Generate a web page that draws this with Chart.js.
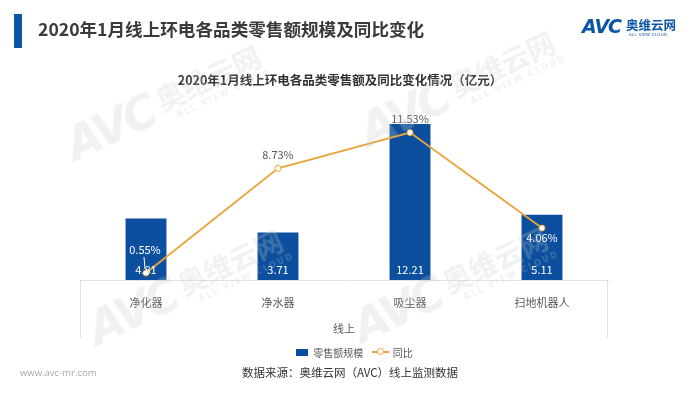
<!DOCTYPE html>
<html>
<head>
<meta charset="utf-8">
<script src="https://cdn.jsdelivr.net/npm/chart.js@4.4.0/dist/chart.umd.min.js"></script>
<style>
  body { margin: 0; width: 700px; height: 394px; background: #fff; overflow: hidden;
         font-family: "Noto Sans CJK SC", "Noto Sans", sans-serif; }
  #wrap { position: relative; width: 700px; height: 394px; }
  #chart { position: absolute; left: 0; top: 0; }
  .abs { position: absolute; white-space: nowrap; }
  #headbar { left: 14px; top: 14px; width: 8px; height: 34px; background: #0B55A8; }
  #head { left: 38px; top: 16px; font-size: 17.6px; font-weight: bold; color: #3a3a3a; }
  #logo { left: 582px; top: 14px; color: #0B55A8; }
  #logo .avc { font-family: "DejaVu Sans"; font-weight: bold; font-size: 19px; font-style: italic; letter-spacing: -1px; }
  #logo .cn { position: absolute; left: 44px; top: 1px; font-size: 12.5px; font-weight: bold; }
  #logo .en { position: absolute; left: 47px; top: 18px; font-size: 4px; font-family: "DejaVu Sans"; letter-spacing: 0.3px; }
  #title { left: 0; width: 680px; text-align: center; top: 70px; font-size: 12.5px; font-weight: bold; color: #333; }
  #legend { left: 296px; top: 343px; font-size: 10px; color: #595959; }
  #legend span { display: inline-block; vertical-align: middle; }
  #source { left: 0; width: 700px; text-align: center; top: 364px; font-size: 11.5px; color: #333; }
  #site { left: 20px; top: 366px; font-size: 9.5px; color: #a8a8a8; font-family: "Open Sans", sans-serif; }
  .wm { position: absolute; height: 44px; transform: rotate(-25deg); transform-origin: 0 100%;
        color: rgba(200, 200, 200, 0.26); pointer-events: none; white-space: nowrap; }
  .wm .a { position: absolute; left: 0; bottom: 0; font-family: "DejaVu Sans"; font-weight: bold; font-style: italic;
           font-size: 46px; line-height: 46px; letter-spacing: -3px; }
  .wm .c { position: absolute; left: 100px; bottom: 12px; font-size: 28px; line-height: 30px; font-weight: bold; }
  .wm .e { position: absolute; left: 112px; bottom: 0; font-family: "DejaVu Sans"; font-weight: bold;
           font-size: 8px; line-height: 10px; letter-spacing: 2px; }
</style>
</head>
<body>
<div id="wrap">
  <canvas id="chart" width="700" height="394"></canvas>
  <div class="abs" id="headbar"></div>
  <div class="abs" id="head">2020年1月线上环电各品类零售额规模及同比变化</div>
  <div class="abs" id="logo"><span class="avc">AVC</span><span class="cn">奥维云网</span><span class="en">ALL VIEW CLOUD</span></div>
  <div class="abs" id="title">2020年1月线上环电各品类零售额及同比变化情况（亿元）</div>
  <div class="abs" id="legend">
    <span style="width:12px;height:7px;background:#0B4F9E;"></span>
    <span style="margin-left:3px;">零售额规模</span>
    <span style="margin-left:6px;position:relative;width:17px;height:10px;">
      <span style="position:absolute;left:0;top:4px;width:17px;height:2px;background:#E8A33A;"></span>
      <span style="position:absolute;left:5px;top:1px;width:5px;height:5px;border:1px solid #E8A33A;border-radius:50%;background:#fff;"></span>
    </span>
    <span style="margin-left:2px;">同比</span>
  </div>
  <div class="abs" id="source">数据来源：奥维云网（AVC）线上监测数据</div>
  <div class="abs" id="site">www.avc-mr.com</div>

  <div class="wm" style="left:78px;top:124px;"><span class="a">AVC</span><span class="c">奥维云网</span><span class="e">ALL VIEW CLOUD</span></div>
  <div class="wm" style="left:372px;top:110px;"><span class="a">AVC</span><span class="c">奥维云网</span><span class="e">ALL VIEW CLOUD</span></div>
  <div class="wm" style="left:100px;top:308px;"><span class="a">AVC</span><span class="c">奥维云网</span><span class="e">ALL VIEW CLOUD</span></div>
  <div class="wm" style="left:365px;top:306px;"><span class="a">AVC</span><span class="c">奥维云网</span><span class="e">ALL VIEW CLOUD</span></div>
</div>
<script>
const categories = ['净化器', '净水器', '吸尘器', '扫地机器人'];
const salesValues = [4.81, 3.71, 12.21, 5.11];
const yoyValues = [0.55, 8.73, 11.53, 4.06];
const groupLabel = '线上';

const barColor = '#0B4F9E';
const lineColor = '#E8A33A';
const textGray = '#595959';
const font = '"Noto Sans CJK SC", "Noto Sans", sans-serif';

const extras = {
    id: 'extras',
    afterDraw(chart) {
        const ctx = chart.ctx;
        const area = chart.chartArea;
        const xScale = chart.scales.x;

        // table-like side borders under the axis
        ctx.save();
        ctx.strokeStyle = '#e3e3e3';
        ctx.lineWidth = 1;
        ctx.beginPath();
        ctx.moveTo(area.left + 0.5, area.bottom);
        ctx.lineTo(area.left + 0.5, xScale.bottom);
        ctx.moveTo(area.right - 0.5, area.bottom);
        ctx.lineTo(area.right - 0.5, xScale.bottom);
        ctx.stroke();

        ctx.font = '11px ' + font;
        ctx.textAlign = 'center';
        ctx.textBaseline = 'middle';

        // bar values, inside base
        chart.getDatasetMeta(0).data.forEach((bar, i) => {
            ctx.fillStyle = '#ffffff';
            ctx.fillText(salesValues[i].toFixed(2), bar.x, bar.base - 10);
        });

        // line values
        chart.getDatasetMeta(1).data.forEach((pt, i) => {
            const txt = yoyValues[i].toFixed(2) + '%';
            if (i === 0) {
                ctx.fillStyle = '#ffffff';
                ctx.fillText(txt, pt.x - 1, pt.y - 23);
                ctx.strokeStyle = '#ffffff';
                ctx.beginPath();
                ctx.moveTo(pt.x - 2, pt.y - 16);
                ctx.lineTo(pt.x - 1, pt.y - 4);
                ctx.stroke();
            } else if (i === 3) {
                ctx.fillStyle = '#ffffff';
                ctx.fillText(txt, pt.x, pt.y + 10);
            } else {
                ctx.fillStyle = textGray;
                ctx.fillText(txt, pt.x, pt.y - 14);
            }
        });
        ctx.restore();
    }
};

new Chart(document.getElementById('chart'), {
    type: 'bar',
    data: {
        labels: categories,
        datasets: [{
            type: 'bar',
            label: '零售额规模',
            data: salesValues,
            backgroundColor: barColor,
            barPercentage: 0.31,
            categoryPercentage: 1.0,
            yAxisID: 'y',
            order: 2
        }, {
            type: 'line',
            label: '同比',
            data: yoyValues,
            borderColor: lineColor,
            borderWidth: 1.8,
            pointRadius: 3,
            pointBackgroundColor: '#ffffff',
            pointBorderColor: lineColor,
            pointBorderWidth: 1,
            tension: 0,
            yAxisID: 'y1',
            order: 1
        }]
    },
    options: {
        responsive: false,
        animation: false,
        layout: { padding: { left: 80, right: 92, top: 101, bottom: 56 } },
        plugins: {
            legend: { display: false },
            tooltip: { enabled: false }
        },
        scales: {
            x: {
                offset: true,
                grid: { display: false },
                border: { color: '#e3e3e3' },
                ticks: { color: textGray, font: { family: font, size: 11 }, padding: 8 },
                title: { display: true, text: groupLabel, color: textGray, font: { family: font, size: 11 }, padding: { top: 6, bottom: 3 } },
                afterFit(scale) { scale.height = 58; }
            },
            y: { display: false, min: 0, max: 14 },
            y1: { display: false, min: 0, max: 14, position: 'right' }
        }
    },
    plugins: [extras]
});
</script>
</body>
</html>
